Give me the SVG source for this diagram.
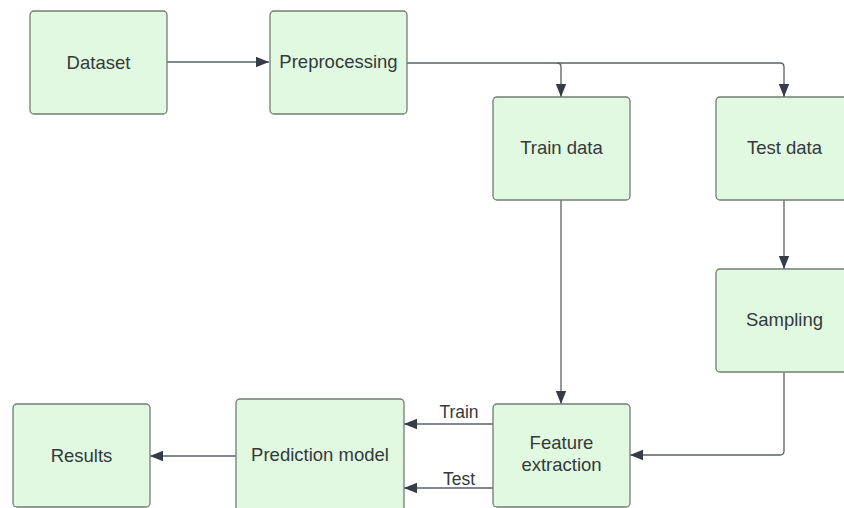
<svg xmlns="http://www.w3.org/2000/svg" width="844" height="508" viewBox="0 0 844 508">
<defs>
<style>
.n rect{fill:#e1f8e1;stroke:#737d73;stroke-width:1.3}
.n text, .lbl{font-family:"Liberation Sans",Arial,sans-serif;font-size:18.5px;fill:#333a3a;text-anchor:middle;dominant-baseline:central}
.lbl{font-size:17.5px}
.c path{fill:none;stroke:#5a6068;stroke-width:1.3}
</style>
<marker id="ah" viewBox="0 0 10 10" refX="10" refY="5" markerWidth="13" markerHeight="13" markerUnits="userSpaceOnUse" orient="auto">
<path d="M0,1 L10,5 L0,9 Z" fill="#363b46"/>
</marker>
</defs>
<rect width="844" height="508" fill="#ffffff"/>
<g class="c">
<path d="M167,62 H269" marker-end="url(#ah)"/>
<path d="M407,63 H557 Q561,63 561,67 V97" marker-end="url(#ah)"/>
<path d="M557,63 H780 Q784,63 784,67 V97" marker-end="url(#ah)"/>
<path d="M561,200 V404" marker-end="url(#ah)"/>
<path d="M784,200 V269" marker-end="url(#ah)"/>
<path d="M784,372 V451 Q784,455 780,455 H630" marker-end="url(#ah)"/>
<path d="M493,424 H404" marker-end="url(#ah)"/>
<path d="M493,488 H404" marker-end="url(#ah)"/>
<path d="M236,456 H150" marker-end="url(#ah)"/>
</g>
<text class="lbl" x="459" y="412">Train</text>
<text class="lbl" x="459" y="479">Test</text>
<g class="n" id="dataset"><rect x="30" y="11" width="137" height="103" rx="4"/><text x="98.5" y="62">Dataset</text></g>
<g class="n" id="preprocessing"><rect x="270" y="11" width="137" height="103" rx="4"/><text x="338.5" y="61">Preprocessing</text></g>
<g class="n" id="train-data"><rect x="493" y="97" width="137" height="103" rx="4"/><text x="561.5" y="147">Train data</text></g>
<g class="n" id="test-data"><rect x="716" y="97" width="137" height="103" rx="4"/><text x="784.5" y="147">Test data</text></g>
<g class="n" id="sampling"><rect x="716" y="269" width="137" height="103" rx="4"/><text x="784.5" y="319">Sampling</text></g>
<g class="n" id="feature-extraction"><rect x="493" y="404" width="137" height="103" rx="4"/><text x="561.5" y="442">Feature</text><text x="561.5" y="464">extraction</text></g>
<g class="n" id="prediction-model"><rect x="236" y="399" width="168" height="120" rx="4"/><text x="320" y="454">Prediction model</text></g>
<g class="n" id="results"><rect x="13" y="404" width="137" height="103" rx="4"/><text x="81.5" y="455">Results</text></g>
</svg>
